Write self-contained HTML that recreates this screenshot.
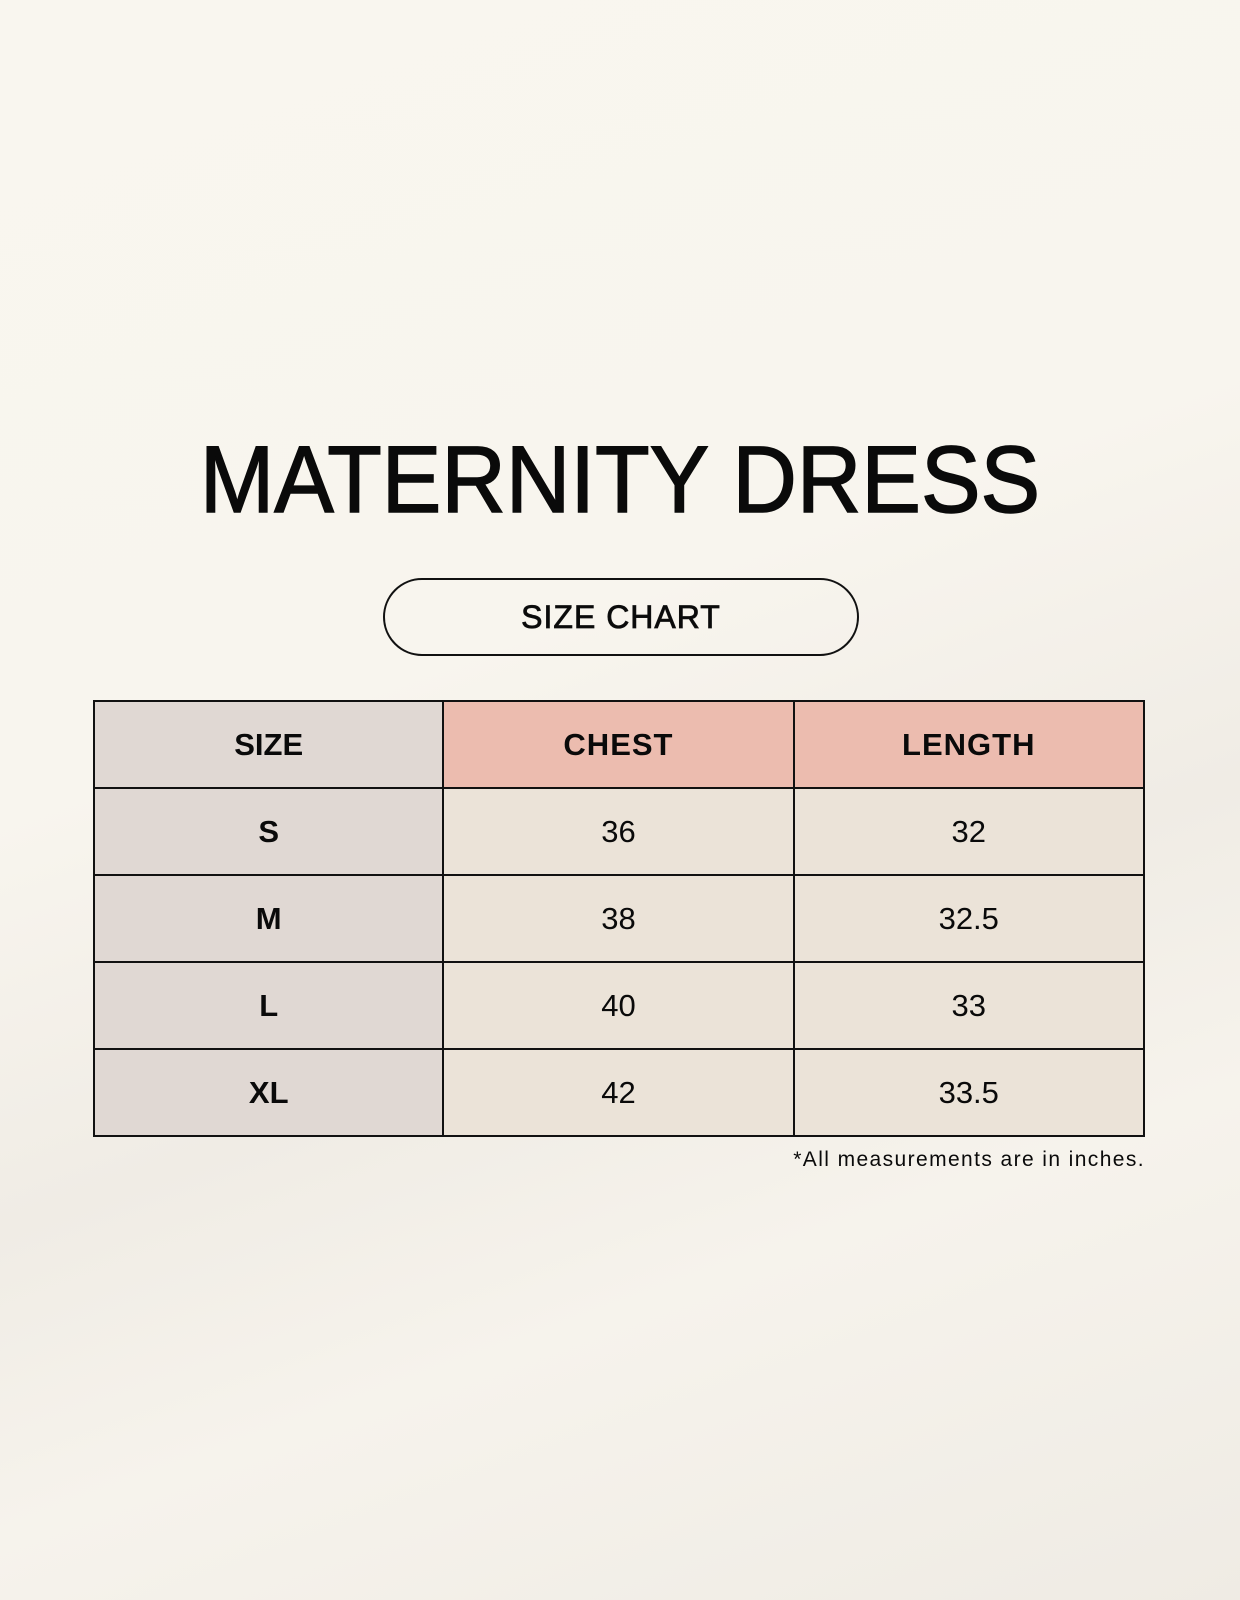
<!DOCTYPE html>
<html><head><style>
body{margin:0;width:1240px;height:1600px;background:linear-gradient(160deg,#f9f6ef 0%,#f8f5ee 40%,#f0ece5 60%,#f6f3ec 75%,#efebe4 100%);font-family:"Liberation Sans",sans-serif;position:relative;overflow:hidden;color:#0a0a0a}
h1{position:absolute;top:425px;left:0;width:1240px;text-align:center;margin:0;font-size:95px;font-weight:normal;line-height:110px;transform:scaleX(0.94);-webkit-text-stroke:1.5px #0a0a0a}
.pill{position:absolute;left:383px;top:578px;width:472px;height:74px;border:2px solid #111;border-radius:40px;text-align:center;line-height:74px;font-size:32px;letter-spacing:1px;-webkit-text-stroke:0.8px #111}
table{position:absolute;left:93px;top:700px;border-collapse:collapse;width:1052px}
td{border:2.5px solid #111;height:83px;text-align:center;font-size:31px;width:350px}
td.s{background:#e0d8d3;font-weight:bold}
td.h{background:#ecbcaf;font-weight:bold;letter-spacing:1px}
td.v{background:#ebe3d8}
.note{position:absolute;right:95px;top:1148px;font-size:21px;letter-spacing:1.4px}
</style></head><body>
<h1>MATERNITY DRESS</h1>
<div class="pill">SIZE CHART</div>
<table>
<tr><td class="s">SIZE</td><td class="h">CHEST</td><td class="h">LENGTH</td></tr>
<tr><td class="s">S</td><td class="v">36</td><td class="v">32</td></tr>
<tr><td class="s">M</td><td class="v">38</td><td class="v">32.5</td></tr>
<tr><td class="s">L</td><td class="v">40</td><td class="v">33</td></tr>
<tr><td class="s">XL</td><td class="v">42</td><td class="v">33.5</td></tr>
</table>
<div class="note">*All measurements are in inches.</div>
</body></html>
